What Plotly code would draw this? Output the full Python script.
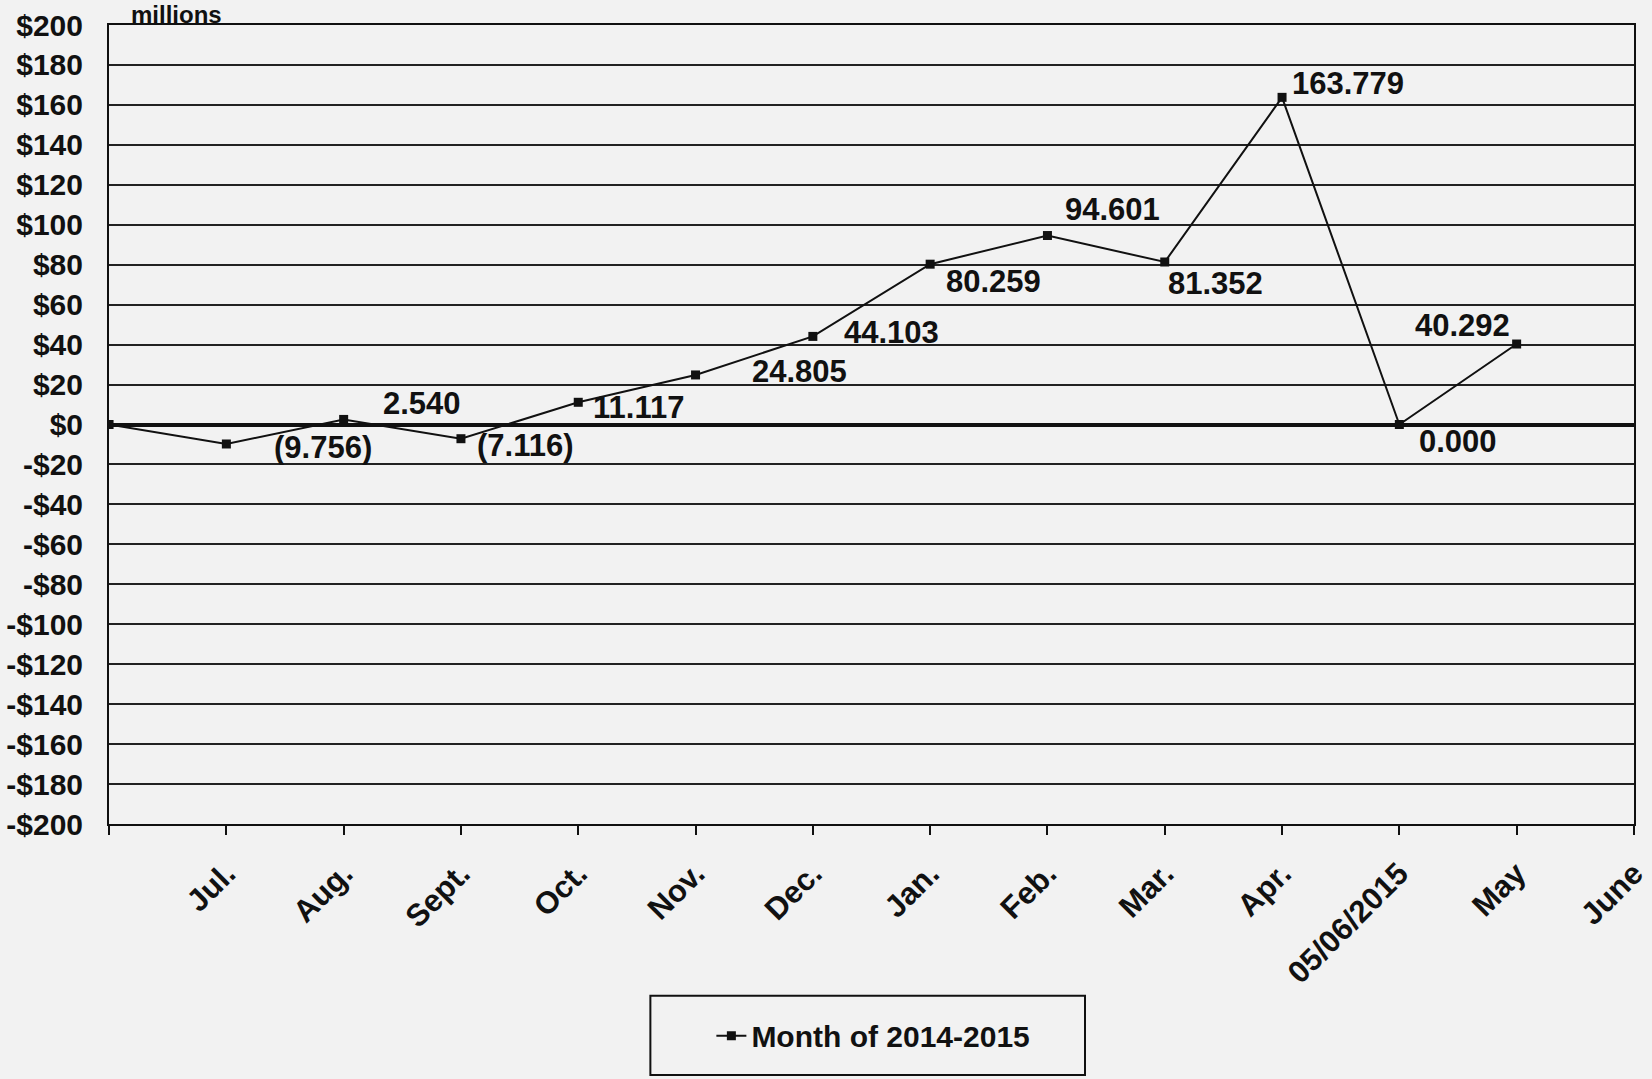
import plotly.graph_objects as go

# ---- data ----
categories = ["", "Jul.", "Aug.", "Sept.", "Oct.", "Nov.", "Dec.", "Jan.", "Feb.",
              "Mar.", "Apr.", "05/06/2015", "May", "June"]
values = [0.0, -9.756, 2.540, -7.116, 11.117, 24.805, 44.103, 80.259, 94.601,
          81.352, 163.779, 0.000, 40.292, None]
series_name = "Month of 2014-2015"
y_tickvals = list(range(-200, 201, 20))
y_ticktext = [("-$" + str(abs(v))) if v < 0 else ("$" + str(v)) for v in y_tickvals]

# label offsets (pixels) per point index -- styling only
label_offsets = {
    1: (97, -4), 2: (78, 16), 3: (65, -7), 4: (60, -5), 5: (104, 3), 6: (79, 4),
    7: (63, -17), 8: (65, 26), 9: (51, -21), 10: (66, 14), 11: (59, -17), 12: (-54, 19),
}

FONT = "Liberation Sans"
xs = list(range(len(categories)))

fig = go.Figure()
fig.add_trace(go.Scatter(
    x=xs, y=values, mode="lines+markers", name=series_name,
    line=dict(color="#111111", width=2),
    marker=dict(symbol="square", size=9, color="#111111"),
    showlegend=True,
))

for i, v in enumerate(values):
    if i in label_offsets and v is not None:
        txt = f"({abs(v):.3f})" if v < 0 else f"{v:.3f}"
        dx, dy = label_offsets[i]
        fig.add_annotation(x=xs[i], y=v, xref="x", yref="y", text=txt, showarrow=False,
                           xshift=dx, yshift=dy,
                           font=dict(family=FONT, size=31, color="#111111", weight="bold"))

fig.add_annotation(x=0.0, y=1.0, xref="paper", yref="paper", text="millions",
                   showarrow=False, xanchor="left", yanchor="bottom", xshift=20, yshift=-5,
                   font=dict(family=FONT, size=24, color="#111111", weight="bold"))

# legend frame
fig.add_shape(type="rect", xref="paper", yref="paper", x0=0.355, x1=0.640, y0=-0.314, y1=-0.215,
              line=dict(color="#111111", width=2), fillcolor="rgba(0,0,0,0)")

fig.update_layout(
    width=1652, height=1079,
    margin=dict(l=109, r=18, t=25, b=255, autoexpand=False),
    paper_bgcolor="#f2f2f2", plot_bgcolor="#f2f2f2",
    font=dict(family=FONT, color="#111111", weight="bold"),
    legend=dict(x=0.395, y=-0.265, xanchor="left", yanchor="middle", bgcolor="rgba(0,0,0,0)",
                font=dict(family=FONT, size=30, color="#111111", weight="bold")),
    xaxis=dict(range=[-0.0005, 13.0005], tickmode="array", tickvals=xs, ticktext=categories,
               tickangle=-45, ticks="outside", ticklen=9, tickwidth=2, tickcolor="#111111",
               showgrid=False, zeroline=False, showline=True, linecolor="#111111",
               linewidth=2, mirror=True, ticklabelstandoff=8, ticklabeloverflow="allow",
               automargin=False,
               tickfont=dict(family=FONT, size=31, color="#111111", weight="bold")),
    yaxis=dict(range=[-200, 200], tickmode="array", tickvals=y_tickvals, ticktext=y_ticktext,
               showgrid=True, gridcolor="#222222", gridwidth=1.5,
               zeroline=True, zerolinecolor="#111111", zerolinewidth=3.5,
               showline=True, linecolor="#111111", linewidth=2, mirror=True,
               ticks="", ticklabelstandoff=18, automargin=False,
               tickfont=dict(family=FONT, size=30, color="#111111", weight="bold")),
)

fig.write_html("out.html", config={"displayModeBar": False},
               post_script="document.body.style.margin='0';document.body.style.overflow='hidden';")
